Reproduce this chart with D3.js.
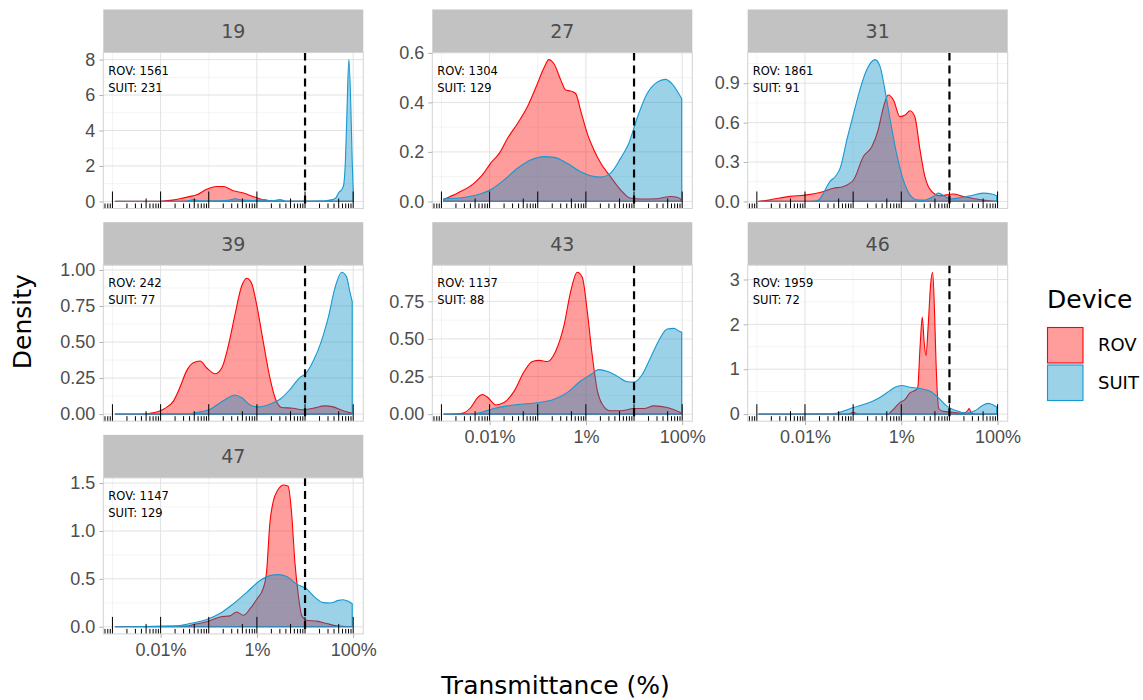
<!DOCTYPE html>
<html>
<head>
<meta charset="utf-8">
<script src="https://cdn.jsdelivr.net/npm/d3@7"></script>
<style>
body { margin: 0; background: #fff; }
svg { font-family: 'DejaVu Sans', sans-serif; }
</style>
</head>
<body>
<svg id="chart" width="1143" height="700"></svg>
<script>
const panels = ['19', '27', '31', '39', '43', '46', '47']
const rovN = [1561, 1304, 1861, 242, 1137, 1959, 1147]
const suitN = [231, 129, 91, 77, 88, 72, 129]
const devices = ['ROV', 'SUIT']
const yTicks = [[0, 2, 4, 6, 8], [0, 0.2, 0.4, 0.6], [0, 0.3, 0.6, 0.9], [0, 0.25, 0.5, 0.75, 1], [0, 0.25, 0.5, 0.75], [0, 1, 2, 3], [0, 0.5, 1, 1.5]]
const yDigits = [0, 1, 1, 2, 2, 0, 1]
const xTicks = [0.01, 1, 100]
const xTickLabels = ['0.01%', '1%', '100%']
const xMinor = [0.001, 0.1, 10]
const cutoff = 10

// density curves, points are [log10 transmittance (%), density]
const rov19 = [[-2.94, 0], [-2.3, 0], [-2.0, 0.01], [-1.8, 0.06], [-1.6, 0.15], [-1.4, 0.27], [-1.25, 0.37], [-1.04, 0.69], [-0.84, 0.84], [-0.7, 0.84], [-0.49, 0.6], [-0.28, 0.47], [-0.08, 0.28], [0.13, 0.09], [0.34, 0.02], [0.6, 0], [1.0, 0], [1.5, 0], [1.98, 0]]
const suit19 = [[-2.94, 0], [-2.0, 0], [-1.5, 0.01], [-1.3, 0.1], [-1.2, 0.04], [-0.9, 0.03], [-0.6, 0.06], [-0.45, 0.15], [-0.3, 0.07], [-0.1, 0.05], [0.15, 0.1], [0.3, 0.03], [0.48, 0.1], [0.6, 0.02], [1.0, 0.02], [1.4, 0.03], [1.57, 0.1], [1.64, 0.2], [1.7, 0.5], [1.76, 0.66], [1.8, 0.9], [1.84, 2.4], [1.87, 5.0], [1.91, 8.0], [1.95, 5.5], [1.98, 2.2], [2.0, 0.7]]
const rov27 = [[-2.95, 0.009], [-2.67, 0.033], [-2.32, 0.074], [-2.15, 0.107], [-1.98, 0.154], [-1.8, 0.194], [-1.63, 0.254], [-1.42, 0.315], [-1.22, 0.38], [-1.04, 0.46], [-0.87, 0.54], [-0.77, 0.573], [-0.66, 0.555], [-0.52, 0.49], [-0.42, 0.45], [-0.32, 0.446], [-0.21, 0.435], [-0.11, 0.368], [0.03, 0.274], [0.17, 0.207], [0.31, 0.154], [0.51, 0.1], [0.72, 0.047], [0.93, 0.013], [1.14, 0.01], [1.48, 0.011], [1.76, 0.02], [1.9, 0.017], [1.97, 0.009]]
const suit27 = [[-2.95, 0.011], [-2.53, 0.016], [-2.18, 0.031], [-1.98, 0.047], [-1.7, 0.087], [-1.42, 0.134], [-1.15, 0.167], [-0.87, 0.181], [-0.66, 0.178], [-0.39, 0.154], [-0.11, 0.12], [0.1, 0.104], [0.31, 0.098], [0.51, 0.114], [0.72, 0.174], [0.89, 0.234], [1.07, 0.34], [1.27, 0.435], [1.48, 0.482], [1.65, 0.493], [1.79, 0.475], [1.93, 0.435], [1.99, 0.415]]
const rov31 = [[-2.96, 0], [-2.72, 0.013], [-2.31, 0.038], [-1.96, 0.05], [-1.69, 0.068], [-1.41, 0.1], [-1.2, 0.114], [-0.99, 0.165], [-0.79, 0.34], [-0.61, 0.418], [-0.48, 0.545], [-0.37, 0.72], [-0.27, 0.81], [-0.16, 0.77], [-0.03, 0.646], [0.08, 0.658], [0.18, 0.69], [0.28, 0.646], [0.39, 0.39], [0.49, 0.19], [0.63, 0.076], [0.8, 0.043], [1.08, 0.056], [1.29, 0.038], [1.56, 0.018], [1.84, 0.005], [2.0, 0]]
const suit31 = [[-2.96, 0], [-2.0, 0], [-1.75, 0.005], [-1.65, 0.04], [-1.58, 0.089], [-1.48, 0.152], [-1.37, 0.19], [-1.27, 0.253], [-1.13, 0.47], [-0.99, 0.67], [-0.86, 0.85], [-0.72, 1.0], [-0.545, 1.08], [-0.44, 1.026], [-0.34, 0.85], [-0.23, 0.62], [-0.1, 0.367], [0.04, 0.165], [0.18, 0.05], [0.32, 0.013], [0.46, 0.01], [0.67, 0.038], [0.77, 0.063], [0.91, 0.038], [1.01, 0.018], [1.18, 0.025], [1.43, 0.043], [1.7, 0.063], [1.88, 0.056], [1.98, 0.043]]
const rov39 = [[-2.94, 0], [-2.43, 0], [-2.15, 0.009], [-1.94, 0.034], [-1.73, 0.092], [-1.6, 0.184], [-1.46, 0.3], [-1.32, 0.356], [-1.18, 0.368], [-1.04, 0.32], [-0.87, 0.28], [-0.73, 0.32], [-0.59, 0.48], [-0.455, 0.69], [-0.32, 0.885], [-0.21, 0.943], [-0.11, 0.908], [-0.005, 0.76], [0.13, 0.506], [0.27, 0.253], [0.375, 0.115], [0.51, 0.046], [0.755, 0.041], [0.96, 0.03], [1.17, 0.041], [1.41, 0.057], [1.585, 0.05], [1.79, 0.023], [1.965, 0.007]]
const suit39 = [[-2.94, 0], [-1.53, 0], [-1.25, 0.011], [-0.97, 0.034], [-0.7, 0.092], [-0.455, 0.133], [-0.32, 0.115], [-0.14, 0.064], [0.03, 0.05], [0.27, 0.069], [0.48, 0.103], [0.69, 0.172], [0.89, 0.253], [1.03, 0.287], [1.17, 0.368], [1.34, 0.506], [1.48, 0.667], [1.62, 0.874], [1.76, 0.984], [1.86, 0.954], [1.93, 0.85], [1.98, 0.78]]
const rov43 = [[-2.95, 0], [-2.6, 0.004], [-2.39, 0.044], [-2.25, 0.11], [-2.15, 0.13], [-2.05, 0.114], [-1.87, 0.061], [-1.7, 0.077], [-1.49, 0.153], [-1.28, 0.285], [-1.11, 0.35], [-0.97, 0.357], [-0.8, 0.35], [-0.63, 0.417], [-0.455, 0.59], [-0.32, 0.81], [-0.18, 0.943], [-0.075, 0.91], [0.03, 0.68], [0.13, 0.395], [0.24, 0.153], [0.34, 0.066], [0.51, 0.022], [0.72, 0.022], [1.0, 0.037], [1.205, 0.037], [1.41, 0.055], [1.69, 0.044], [1.965, 0.011]]
const suit43 = [[-2.95, 0], [-2.46, 0], [-2.18, 0.011], [-1.91, 0.037], [-1.63, 0.055], [-1.35, 0.066], [-1.01, 0.075], [-0.66, 0.099], [-0.39, 0.143], [-0.11, 0.22], [0.1, 0.263], [0.27, 0.296], [0.44, 0.285], [0.65, 0.252], [0.86, 0.215], [1.0, 0.213], [1.17, 0.263], [1.34, 0.373], [1.52, 0.493], [1.69, 0.566], [1.83, 0.57], [1.93, 0.553], [1.99, 0.544]]
const rov46 = [[-2.96, 0], [-1.1, 0], [-1.0, 0.04], [-0.9, 0], [-0.3, 0], [-0.13, 0.146], [-0.03, 0.256], [0.08, 0.33], [0.18, 0.475], [0.285, 0.527], [0.34, 0.58], [0.39, 1.5], [0.436, 2.16], [0.475, 1.6], [0.512, 1.3], [0.56, 2.0], [0.61, 2.9], [0.651, 3.16], [0.69, 2.3], [0.72, 1.2], [0.75, 0.45], [0.78, 0.12], [0.87, 0.06], [1.08, 0.04], [1.3, 0.02], [1.38, 0.08], [1.41, 0.125], [1.45, 0.03], [1.55, 0], [1.98, 0]]
const suit46 = [[-2.96, 0], [-1.41, 0.01], [-1.2, 0.07], [-0.99, 0.146], [-0.72, 0.234], [-0.51, 0.33], [-0.3, 0.475], [-0.13, 0.6], [0.01, 0.636], [0.18, 0.6], [0.39, 0.57], [0.6, 0.51], [0.77, 0.366], [0.94, 0.183], [1.15, 0.073], [1.36, 0.022], [1.53, 0.073], [1.67, 0.183], [1.81, 0.24], [1.91, 0.205], [1.98, 0.16]]
const rov47 = [[-2.94, 0], [-1.46, 0.007], [-1.32, 0.024], [-1.04, 0.052], [-0.77, 0.103], [-0.56, 0.114], [-0.42, 0.155], [-0.28, 0.12], [-0.14, 0.19], [0, 0.29], [0.13, 0.4], [0.2, 0.57], [0.27, 1.086], [0.34, 1.31], [0.44, 1.43], [0.55, 1.48], [0.65, 1.466], [0.72, 1.19], [0.79, 0.67], [0.86, 0.33], [0.93, 0.12], [1.03, 0.069], [1.24, 0.059], [1.45, 0.034], [1.65, 0.01], [1.965, 0]]
const suit47 = [[-2.94, 0], [-1.73, 0.007], [-1.39, 0.034], [-1.04, 0.076], [-0.77, 0.138], [-0.49, 0.24], [-0.21, 0.36], [0.06, 0.48], [0.27, 0.534], [0.44, 0.545], [0.62, 0.524], [0.82, 0.448], [1.03, 0.397], [1.2, 0.31], [1.38, 0.252], [1.52, 0.248], [1.69, 0.276], [1.79, 0.283], [1.9, 0.266], [1.98, 0.241]]

const rovCurves = [rov19, rov27, rov31, rov39, rov43, rov46, rov47]
const suitCurves = [suit19, suit27, suit31, suit39, suit43, suit46, suit47]

const colLeft = [103.3, 432.3, 747.7]
const rowTop = [52.5, 265.2, 477.9]
const pw = 260, ph = 156, stripH = 43
const lineColor = {ROV: '#ff0000', SUIT: '#1499d0'}
const fillColor = {ROV: '#ff0000', SUIT: '#008cc3'}
const fillAlpha = 0.39
const withXAxis = [4, 5, 6]

const svg = d3.select('#chart')
const x = d3.scaleLog().domain([10 ** -3.19, 10 ** 2.21]).range([0, pw])

// log tick marks along the bottom of each panel
const logTicks = []
for (let k = -4; k <= 2; k++) {
	for (let m = 1; m <= 9; m++) {
		const v = m * 10 ** k
		if (v >= x.domain()[0] && v <= x.domain()[1]) logTicks.push({v, len: m === 1 ? 17 : m === 5 ? 10 : 5})
	}
}

panels.forEach((id, i) => {
	const r = Math.floor(i / 3), c = i % 3
	const g = svg.append('g').attr('transform', `translate(${colLeft[c]},${rowTop[r]})`)

	const ymax = d3.max(rovCurves[i].concat(suitCurves[i]), d => d[1])
	const y = d3.scaleLinear().domain([-0.05 * ymax, 1.05 * ymax]).range([ph, 0])

	// strip
	g.append('rect')
		.attr('x', 0).attr('y', -stripH)
		.attr('width', pw).attr('height', stripH)
		.attr('fill', '#c2c2c2')
	g.append('text')
		.attr('x', pw / 2).attr('y', -stripH / 2)
		.attr('dy', '0.36em')
		.attr('text-anchor', 'middle')
		.attr('font-size', 19).attr('fill', '#4d4d4d')
		.text(id)

	// grid
	const step = yTicks[i][1] - yTicks[i][0]
	const yMinor = d3.range(yTicks[i][0] - step / 2, y.domain()[1], step).filter(v => v > y.domain()[0])
	g.selectAll('.ymin').data(yMinor).enter().append('line')
		.attr('x1', 0).attr('x2', pw)
		.attr('y1', d => y(d)).attr('y2', d => y(d))
		.attr('stroke', '#ededed').attr('stroke-width', 0.6)
	g.selectAll('.xmin').data(xMinor).enter().append('line')
		.attr('x1', d => x(d)).attr('x2', d => x(d))
		.attr('y1', 0).attr('y2', ph)
		.attr('stroke', '#ededed').attr('stroke-width', 0.6)
	g.selectAll('.ymaj').data(yTicks[i]).enter().append('line')
		.attr('x1', 0).attr('x2', pw)
		.attr('y1', d => y(d)).attr('y2', d => y(d))
		.attr('stroke', '#e2e2e2').attr('stroke-width', 1)
	g.selectAll('.xmaj').data(xTicks).enter().append('line')
		.attr('x1', d => x(d)).attr('x2', d => x(d))
		.attr('y1', 0).attr('y2', ph)
		.attr('stroke', '#e2e2e2').attr('stroke-width', 1)

	// densities
	const area = d3.area()
		.x(d => x(10 ** d[0]))
		.y0(y(0))
		.y1(d => y(d[1]))
		.curve(d3.curveMonotoneX)
	;[rovCurves[i], suitCurves[i]].forEach((curve, j) => {
		const dev = devices[j]
		g.append('path')
			.attr('d', area(curve))
			.attr('fill', fillColor[dev]).attr('fill-opacity', fillAlpha)
			.attr('stroke', lineColor[dev]).attr('stroke-width', 1.1)
			.attr('stroke-linejoin', 'round')
	})

	// log ticks
	g.selectAll('.logtick').data(logTicks).enter().append('line')
		.attr('x1', d => x(d.v)).attr('x2', d => x(d.v))
		.attr('y1', ph).attr('y2', d => ph - d.len)
		.attr('stroke', '#000').attr('stroke-width', 1)

	// cutoff line
	g.append('line')
		.attr('x1', x(cutoff)).attr('x2', x(cutoff))
		.attr('y1', 0).attr('y2', ph)
		.attr('stroke', '#000').attr('stroke-width', 2.2)
		.attr('stroke-dasharray', '8,5')

	// counts
	g.append('text').attr('x', 5).attr('y', 22)
		.attr('font-size', 11.5).attr('fill', '#000')
		.text(`ROV: ${rovN[i]}`)
	g.append('text').attr('x', 5).attr('y', 39)
		.attr('font-size', 11.5).attr('fill', '#000')
		.text(`SUIT: ${suitN[i]}`)

	// border
	g.append('rect')
		.attr('width', pw).attr('height', ph)
		.attr('fill', 'none').attr('stroke', '#d3d3d3').attr('stroke-width', 1)

	// y axis
	const ya = g.append('g')
		.call(d3.axisLeft(y).tickValues(yTicks[i]).tickFormat(d3.format(`.${yDigits[i]}f`)).tickSize(4).tickPadding(4))
	ya.select('.domain').remove()
	ya.selectAll('line').attr('stroke', '#b3b3b3')
	ya.selectAll('text').attr('font-size', 18).attr('fill', '#4d4d4d').attr('font-family', null)

	if (withXAxis.includes(i)) {
		const xa = g.append('g')
			.attr('transform', `translate(0,${ph})`)
			.call(d3.axisBottom(x).tickValues(xTicks).tickFormat((d, k) => xTickLabels[k]).tickSize(4).tickPadding(5))
		xa.select('.domain').remove()
		xa.selectAll('line').attr('stroke', '#b3b3b3')
		xa.selectAll('text').attr('font-size', 18).attr('fill', '#4d4d4d').attr('font-family', null)
	}
})

// axis titles
svg.append('text')
	.attr('x', (colLeft[0] + colLeft[2] + pw) / 2).attr('y', 694)
	.attr('text-anchor', 'middle')
	.attr('font-size', 25).attr('fill', '#000')
	.text('Transmittance (%)')
svg.append('text')
	.attr('transform', `translate(31,${(rowTop[0] - stripH + rowTop[2] + ph) / 2}) rotate(-90)`)
	.attr('text-anchor', 'middle')
	.attr('font-size', 25).attr('fill', '#000')
	.text('Density')

// legend
const legend = svg.append('g').attr('transform', 'translate(1047,0)')
legend.append('text')
	.attr('x', 0).attr('y', 308)
	.attr('font-size', 25).attr('fill', '#000')
	.text('Device')
devices.forEach((dev, j) => {
	legend.append('rect')
		.attr('x', 0.5).attr('y', 327.5 + j * 37.5)
		.attr('width', 35.5).attr('height', 35.5)
		.attr('fill', fillColor[dev]).attr('fill-opacity', fillAlpha)
		.attr('stroke', lineColor[dev]).attr('stroke-width', 1.1)
	legend.append('text')
		.attr('x', 51).attr('y', 351 + j * 38)
		.attr('font-size', 18).attr('fill', '#000')
		.text(dev)
})
</script>
</body>
</html>
